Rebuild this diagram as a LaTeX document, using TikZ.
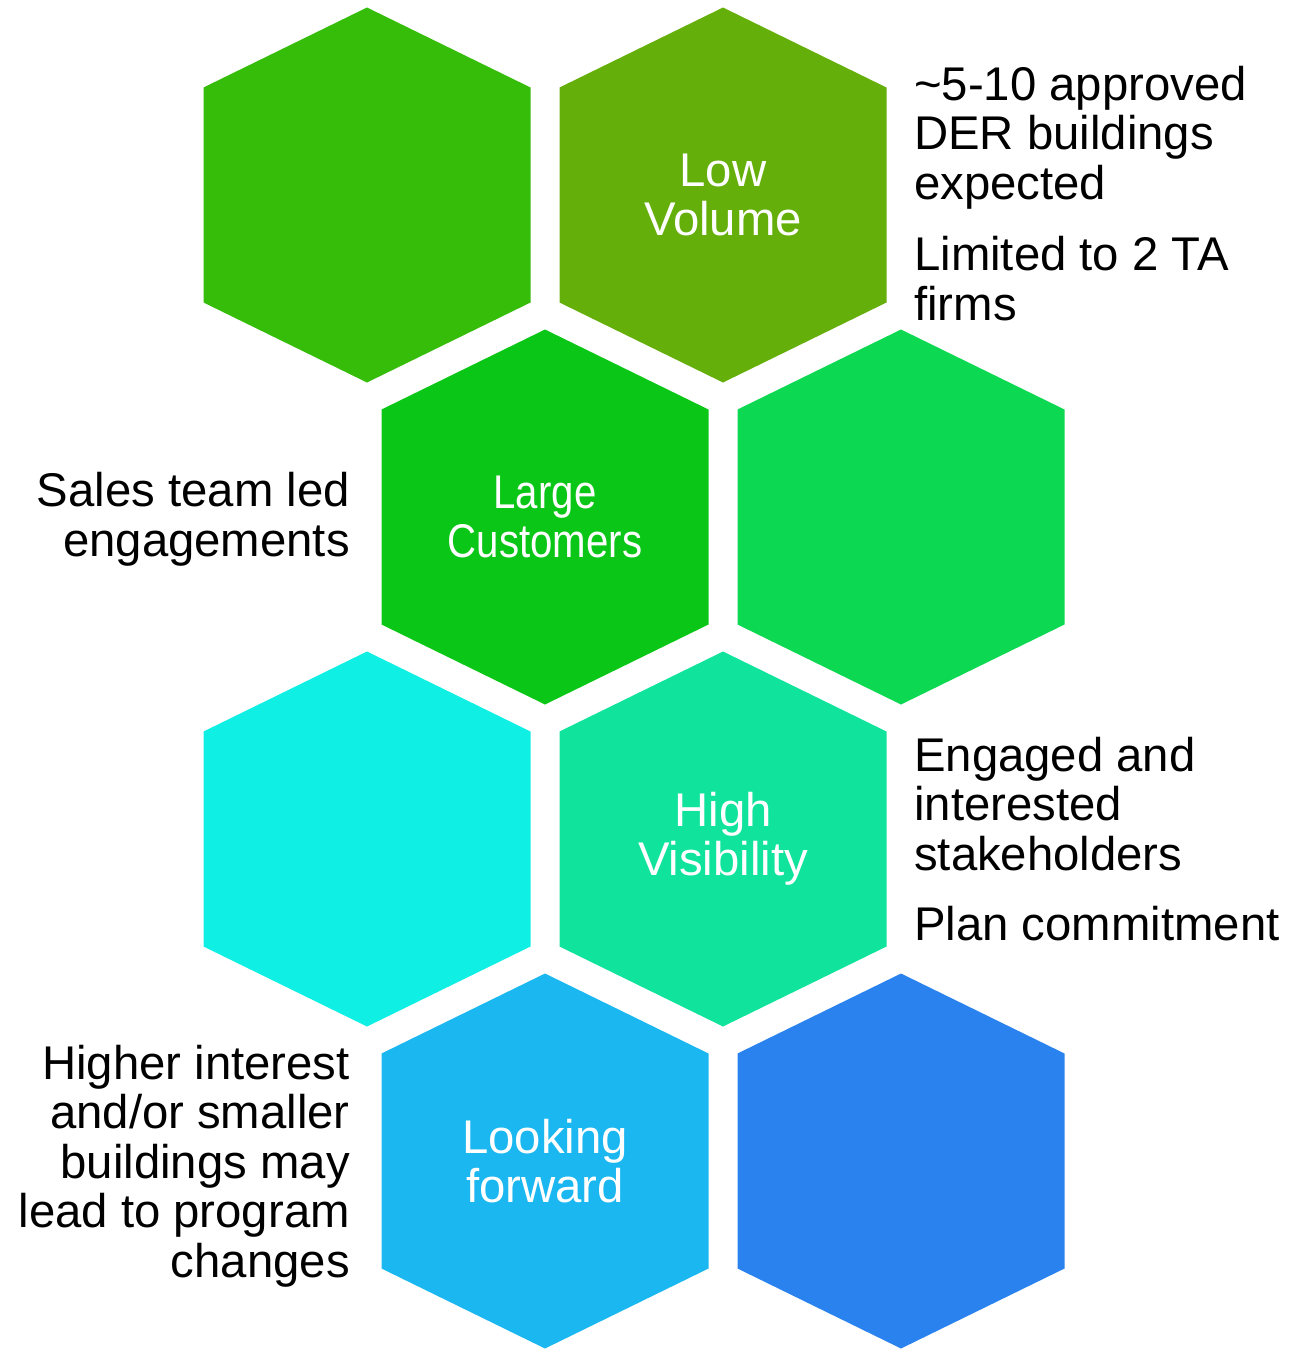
\documentclass[tikz,border=0pt]{standalone}
\usepackage{fontspec}
\setmainfont{Liberation Sans}
\newfontfamily\narrowfont[FakeStretch=0.85]{Liberation Sans}
\definecolor{hexA}{HTML}{36BD0A}
\definecolor{hexB}{HTML}{65AF0A}
\definecolor{hexC}{HTML}{0AC617}
\definecolor{hexD}{HTML}{0DD852}
\definecolor{hexE}{HTML}{10EFE4}
\definecolor{hexF}{HTML}{0FE39C}
\definecolor{hexG}{HTML}{1BB7F0}
\definecolor{hexH}{HTML}{2A82EE}
% one hexagon round a named centre
\newcommand{\hexcell}[2]{%
  \fill[#2,shift={(#1)}] (0,-187.5) -- (163.5,-107.5) -- (163.5,107.5)
    -- (0,187.5) -- (-163.5,107.5) -- (-163.5,-107.5) -- cycle;}

\begin{document}
\begin{tikzpicture}[x=1pt,y=-1pt,
  every node/.style={inner sep=0pt,font=\fontsize{47.3}{49.5}\selectfont},
  hexlabel/.style={text=white,align=center},
  sidenote/.style={align=left,anchor=base west},
  leftnote/.style={align=right,anchor=base east}]
  \useasboundingbox (0,0) rectangle (1306,1349);
  \coordinate (c1) at (367,195);
  \coordinate (lowvol) at (723,195);
  \coordinate (largecust) at (545,517);
  \coordinate (c4) at (901,517);
  \coordinate (c5) at (367,839);
  \coordinate (highvis) at (723,839);
  \coordinate (lookfwd) at (545,1161);
  \coordinate (c8) at (901,1161);
  \hexcell{c1}{hexA}
  \hexcell{lowvol}{hexB}
  \hexcell{largecust}{hexC}
  \hexcell{c4}{hexD}
  \hexcell{c5}{hexE}
  \hexcell{highvis}{hexF}
  \hexcell{lookfwd}{hexG}
  \hexcell{c8}{hexH}
  \node[hexlabel] (lowvoltxt) at (lowvol) {Low\\Volume};
  \node[hexlabel,font=\fontsize{47.3}{49.5}\narrowfont] (largetxt) at (largecust) {Large\\Customers};
  \node[hexlabel] (highvistxt) at (highvis) {High\\Visibility};
  \node[hexlabel] (lookfwdtxt) at (lookfwd) {Looking\\forward};
  % side notes: anchored at the baseline of their last line
  \node[sidenote] (dernote) at (914,199) {\textasciitilde5-10 approved\\DER buildings\\expected};
  \node[sidenote] (tanote) at (914,320) {Limited to 2 TA\\firms};
  \node[sidenote] (stakenote) at (914,870) {Engaged and\\interested\\stakeholders};
  \node[sidenote] (plannote) at (914,940) {Plan commitment};
  \node[leftnote] (salesnote) at (350,556) {Sales team led\\engagements};
  \node[leftnote] (changenote) at (350,1277) {Higher interest\\and/or smaller\\buildings may\\lead to program\\changes};
\end{tikzpicture}
\end{document}
